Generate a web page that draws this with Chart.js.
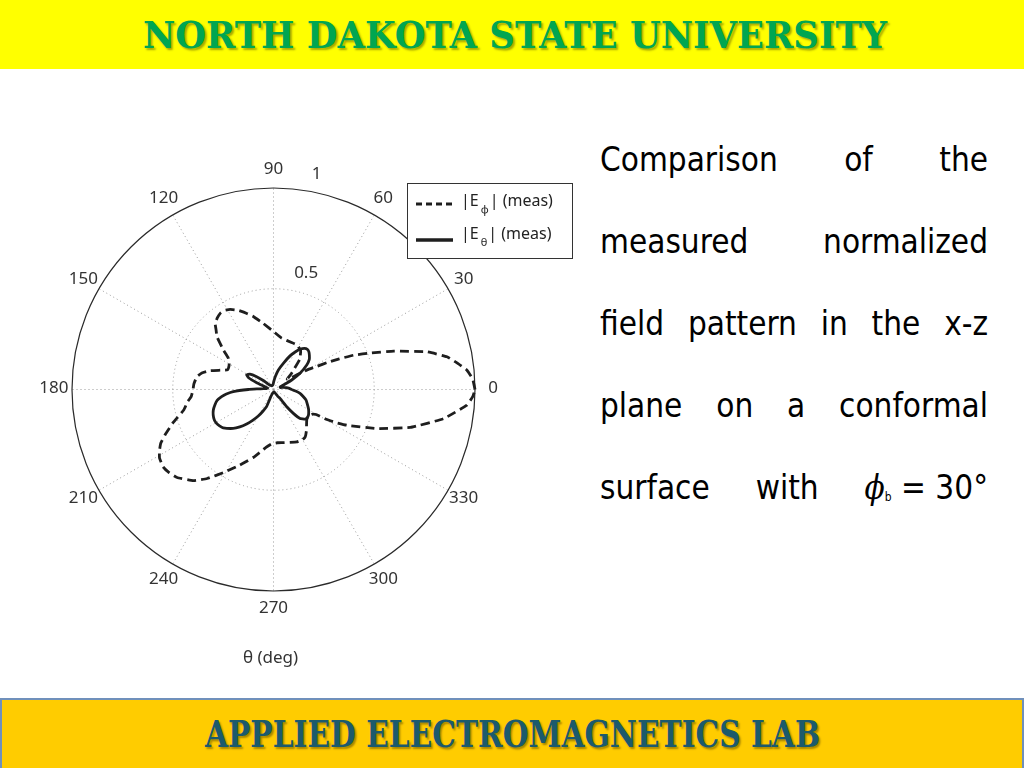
<!DOCTYPE html>
<html>
<head>
<meta charset="utf-8">
<script src="https://cdn.jsdelivr.net/npm/chart.js@4.4.1/dist/chart.umd.min.js"></script>
<style>
  body { margin: 0; width: 1024px; height: 768px; position: relative; overflow: hidden; background: #fff; }
  #topBar { position: absolute; left: 0; top: 0; width: 1024px; height: 69px; background: #ffff00; }
  #bottomBar { position: absolute; left: 0; top: 698px; width: 1020px; height: 70px; background: #ffcc00;
               border: 2px solid #7090bb; border-bottom: none; }
  .banner { position: absolute; white-space: nowrap; font-family: "DejaVu Serif"; font-weight: bold;
            font-stretch: condensed; line-height: 1; transform-origin: left top; }
  #title { left: 143px; top: 16px; font-size: 38px; color: #00a651; text-shadow: 2px 2px 2px rgba(60,60,0,0.45); }
  #lab { left: 205px; top: 716px; font-size: 37px; color: #1c5a6c; text-shadow: 2px 2px 2px rgba(0,0,0,0.35); }
  .line { position: absolute; left: 600px; width: 388px; display: flex; justify-content: space-between;
          font-family: "DejaVu Sans Condensed", "DejaVu Sans"; font-stretch: condensed; font-size: 33px;
          line-height: 1; color: #000; }
  .phi { font-family: "DejaVu Serif"; font-style: italic; }
  .sub { font-size: 12px; vertical-align: -2px; }
  #chartBox { position: absolute; left: 22px; top: 138px; width: 560px; height: 540px; }
</style>
</head>
<body>
<div id="topBar"></div>
<div id="title" class="banner">NORTH DAKOTA STATE UNIVERSITY</div>

<div class="line" style="top:143px"><span>Comparison</span><span>of</span><span>the</span></div>
<div class="line" style="top:225px"><span>measured</span><span>normalized</span></div>
<div class="line" style="top:307px"><span>field</span><span>pattern</span><span>in</span><span>the</span><span>x-z</span></div>
<div class="line" style="top:389px"><span>plane</span><span>on</span><span>a</span><span>conformal</span></div>
<div class="line" style="top:471px"><span>surface</span><span>with</span><span><span class="phi">ϕ</span><span class="sub">b</span> = 30°</span></div>

<div id="chartBox"><canvas id="polarChart" width="560" height="540"></canvas></div>

<div id="bottomBar"></div>
<div id="lab" class="banner">APPLIED ELECTROMAGNETICS LAB</div>

<script>
// measured |E_phi| (dashed), angle in degrees and normalized magnitude
const phiAngles = [0, 3, 5.7, 8, 10.7, 13.8, 17.7, 20.5, 23.2, 25, 26.6, 28, 30, 32, 34, 37, 42, 49, 55, 62, 69, 81,
  90, 99, 105.5, 109.3, 114, 118.4, 122, 125, 128, 131.5, 134, 137, 141.8, 145, 148.4, 152, 156.8, 160, 163.6, 167,
  170.6, 176, 180.5, 185, 188, 192.9, 198.3, 202.8, 205.5, 208.3, 211, 215, 218.5, 222.4, 228.6, 233.3, 239.1, 246,
  253.4, 262.6, 268, 274.1, 280, 287.3, 294, 299.2, 303, 305.3, 309, 312, 317.4, 321, 325, 328, 329.5, 330.5, 332,
  334, 339.3, 344.5, 350.3, 355.4, 358, 360];
const phiValues = [1.0, 0.99, 0.965, 0.925, 0.876, 0.784, 0.626, 0.52, 0.432, 0.36, 0.30, 0.245, 0.2, 0.14, 0.1, 0.085,
  0.121, 0.198, 0.235, 0.25, 0.25, 0.258, 0.288, 0.333, 0.376, 0.40, 0.43, 0.452, 0.462, 0.461, 0.452, 0.437, 0.41,
  0.384, 0.316, 0.275, 0.258, 0.25, 0.248, 0.28, 0.33, 0.365, 0.386, 0.396, 0.4, 0.41, 0.43, 0.457, 0.525, 0.585,
  0.62, 0.643, 0.66, 0.669, 0.662, 0.648, 0.603, 0.551, 0.48, 0.41, 0.352, 0.29, 0.27, 0.265, 0.268, 0.275, 0.285,
  0.288, 0.285, 0.277, 0.26, 0.245, 0.224, 0.218, 0.222, 0.23, 0.245, 0.30, 0.35, 0.405, 0.549, 0.705, 0.857, 0.963,
  0.99, 1.0];

// measured |E_theta| (solid)
const thetaAngles = [0, 5, 8, 12, 16, 20, 23.2, 27.6, 31.4, 36.4, 40, 43.9, 47, 49.9, 53, 56.6, 60, 63.8, 69.4, 76, 82,
  88, 95, 110, 125, 135, 139, 142.7, 147, 151.6, 155, 157.9, 161, 166, 172, 175, 178, 180, 183, 185.5, 187.9, 191,
  194.8, 199, 203, 207, 210.8, 214, 217.3, 224, 228, 232.1, 236, 240.2, 244, 248, 249.5, 255, 265, 280, 295, 302,
  306.3, 307.5, 309.8, 312.6, 316.9, 320, 323.8, 328, 331.6, 337, 342, 347, 351.8, 356, 360];
const thetaValues = [0.09, 0.075, 0.066, 0.05, 0.035, 0.035, 0.045, 0.102, 0.154, 0.205, 0.232, 0.247, 0.257, 0.261,
  0.255, 0.239, 0.215, 0.186, 0.139, 0.1, 0.065, 0.04, 0.025, 0.02, 0.025, 0.04, 0.07, 0.105, 0.14, 0.152, 0.135,
  0.09, 0.05, 0.03, 0.035, 0.05, 0.08, 0.125, 0.2, 0.235, 0.26, 0.285, 0.301, 0.316, 0.325, 0.33, 0.329, 0.323,
  0.314, 0.278, 0.25, 0.217, 0.185, 0.152, 0.12, 0.092, 0.04, 0.02, 0.015, 0.012, 0.02, 0.04, 0.055, 0.108, 0.154,
  0.195, 0.215, 0.218, 0.215, 0.206, 0.197, 0.182, 0.17, 0.15, 0.133, 0.11, 0.09];

const angleTicks = [0, 30, 60, 90, 120, 150, 180, 210, 240, 270, 300, 330];
const radialTicks = [0.5, 1];
const axisTitle = 'θ (deg)';

function toXY(angles, values) {
  return angles.map((a, i) => ({
    x: values[i] * Math.cos(a * Math.PI / 180),
    y: values[i] * Math.sin(a * Math.PI / 180)
  }));
}

// fit the banner texts to the widths seen on the slide
function fitWidth(id, target) {
  const el = document.getElementById(id);
  el.style.transform = 'scaleX(' + (target / el.getBoundingClientRect().width) + ')';
}
fitWidth('title', 744);
fitWidth('lab', 615);

const ink = '#1e1e1e';
const labelFont = '17px "Noto Sans"';

const polarFrame = {
  id: 'polarFrame',
  beforeDatasetsDraw(chart) {
    const { ctx, scales: { x, y } } = chart;
    const cx = x.getPixelForValue(0);
    const cy = y.getPixelForValue(0);
    const R = x.getPixelForValue(1) - cx;
    ctx.save();
    // dotted spokes and inner ring
    ctx.strokeStyle = '#9a9a9a';
    ctx.lineWidth = 1;
    ctx.setLineDash([1, 3]);
    angleTicks.forEach(a => {
      const t = a * Math.PI / 180;
      ctx.beginPath();
      ctx.moveTo(cx, cy);
      ctx.lineTo(cx + R * Math.cos(t), cy - R * Math.sin(t));
      ctx.stroke();
    });
    radialTicks.filter(r => r < 1).forEach(r => {
      ctx.beginPath();
      ctx.arc(cx, cy, r * R, 0, Math.PI * 2);
      ctx.stroke();
    });
    // outer circle
    ctx.setLineDash([]);
    ctx.strokeStyle = '#2a2a2a';
    ctx.lineWidth = 1.2;
    ctx.beginPath();
    ctx.arc(cx, cy, R, 0, Math.PI * 2);
    ctx.stroke();

    ctx.fillStyle = '#333';
    ctx.font = labelFont;
    ctx.textAlign = 'center';
    ctx.textBaseline = 'middle';
    angleTicks.forEach(a => {
      const t = a * Math.PI / 180;
      ctx.fillText(String(a), cx + 1.09 * R * Math.cos(t), cy - 1.09 * R * Math.sin(t) - 1);
    });
    ctx.textAlign = 'left';
    const rt = 80 * Math.PI / 180;
    radialTicks.forEach(r => {
      ctx.fillText(String(r), cx + (r + 0.09) * R * Math.cos(rt), cy - (r + 0.09) * R * Math.sin(rt) + 1);
    });
    ctx.restore();
  },
  afterDatasetsDraw(chart) {
    const { ctx, chartArea, scales: { x } } = chart;
    const cx = x.getPixelForValue(0);
    ctx.save();
    // axis title
    ctx.fillStyle = '#333';
    ctx.font = labelFont;
    ctx.textAlign = 'center';
    ctx.textBaseline = 'middle';
    ctx.fillText(axisTitle, cx - 3, chartArea.bottom + 67);

    // legend box
    const bx = chartArea.right - 68, by = chartArea.top - 5, bw = 165, bh = 75;
    ctx.fillStyle = '#fff';
    ctx.fillRect(bx, by, bw, bh);
    ctx.strokeStyle = '#333';
    ctx.lineWidth = 1;
    ctx.strokeRect(bx + 0.5, by + 0.5, bw, bh);

    const rows = [
      { ds: chart.data.datasets[0], lineY: by + 21, textY: by + 18, dash: [6, 4], width: 2.8 },
      { ds: chart.data.datasets[1], lineY: by + 57, textY: by + 51, dash: [], width: 3.6 }
    ];
    rows.forEach(row => {
      ctx.strokeStyle = row.ds.borderColor;
      ctx.lineWidth = row.width;
      ctx.setLineDash(row.dash);
      ctx.beginPath();
      ctx.moveTo(bx + 9, row.lineY);
      ctx.lineTo(bx + 46, row.lineY);
      ctx.stroke();
      ctx.setLineDash([]);

      ctx.fillStyle = '#222';
      ctx.textAlign = 'left';
      ctx.textBaseline = 'middle';
      let tx = bx + 54;
      ctx.font = '16px "Noto Sans"';
      ctx.fillText('|E', tx, row.textY);
      tx += ctx.measureText('|E').width + 2;
      ctx.font = '11px "Noto Sans"';
      ctx.fillText(row.ds.subscript, tx, row.textY + 9);
      tx += ctx.measureText(row.ds.subscript).width + 1;
      ctx.font = '16px "Noto Sans"';
      ctx.fillText('| (meas)', tx, row.textY);
    });
    ctx.restore();
  }
};

new Chart(document.getElementById('polarChart'), {
  type: 'scatter',
  data: {
    datasets: [
      {
        label: '|E_phi| (meas)',
        subscript: 'ϕ',
        data: toXY(phiAngles, phiValues),
        showLine: true,
        borderColor: ink,
        borderWidth: 2.8,
        borderDash: [9, 5],
        pointRadius: 0,
        tension: 0.1,
        clip: false
      },
      {
        label: '|E_theta| (meas)',
        subscript: 'θ',
        data: toXY(thetaAngles, thetaValues),
        showLine: true,
        borderColor: ink,
        borderWidth: 2.8,
        pointRadius: 0,
        tension: 0.1,
        clip: false
      }
    ]
  },
  options: {
    responsive: false,
    devicePixelRatio: 1,
    animation: false,
    layout: { padding: { left: 50, right: 107, top: 50, bottom: 87 } },
    scales: {
      x: { type: 'linear', min: -1, max: 1, display: false },
      y: { type: 'linear', min: -1, max: 1, display: false }
    },
    plugins: {
      legend: { display: false },
      tooltip: { enabled: false }
    }
  },
  plugins: [polarFrame]
});
</script>
</body>
</html>
